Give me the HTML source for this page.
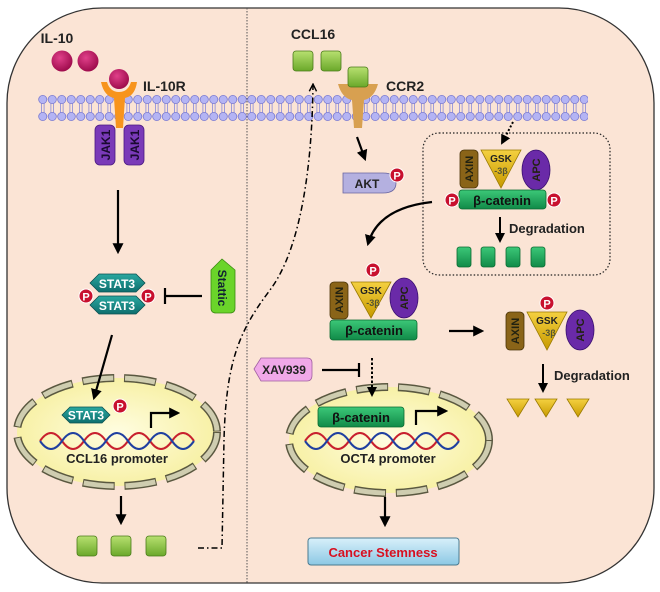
<!DOCTYPE html>
<html><head><meta charset="utf-8"><style>
html,body{margin:0;padding:0;background:#fff}
svg{display:block}
text{font-family:"Liberation Sans",Arial,sans-serif;font-weight:bold}
</style></head><body>
<svg width="660" height="592" viewBox="0 0 660 592" xmlns="http://www.w3.org/2000/svg">
<defs>
<pattern id="mem" x="0" y="95" width="9.5" height="26" patternUnits="userSpaceOnUse">
<line x1="3.4" y1="8" x2="3.4" y2="18" stroke="#8a8ad8" stroke-width="0.8"/>
<line x1="6.1" y1="8" x2="6.1" y2="18" stroke="#8a8ad8" stroke-width="0.8"/>
<circle cx="4.75" cy="4.5" r="4.1" fill="#b4b4f4" stroke="#7a7ad0" stroke-width="0.8"/>
<circle cx="4.75" cy="21.5" r="4.1" fill="#b4b4f4" stroke="#7a7ad0" stroke-width="0.8"/>
</pattern>
<radialGradient id="mag" cx="0.4" cy="0.35" r="0.7"><stop offset="0" stop-color="#e0408a"/><stop offset="1" stop-color="#9a0848"/></radialGradient>
<linearGradient id="gsq" x1="0" y1="0" x2="0" y2="1"><stop offset="0" stop-color="#b8e070"/><stop offset="1" stop-color="#6aa82a"/></linearGradient>
<linearGradient id="gcat" x1="0" y1="0" x2="0" y2="1"><stop offset="0" stop-color="#3cc878"/><stop offset="1" stop-color="#108a48"/></linearGradient>
<linearGradient id="gstat" x1="0" y1="0" x2="0" y2="1"><stop offset="0" stop-color="#2aa8a0"/><stop offset="1" stop-color="#0e6e6e"/></linearGradient>
<linearGradient id="gyel" x1="0" y1="0" x2="0" y2="1"><stop offset="0" stop-color="#f4d040"/><stop offset="1" stop-color="#c89a00"/></linearGradient>
<radialGradient id="gnuc" cx="0.5" cy="0.5" r="0.6"><stop offset="0" stop-color="#fffde0"/><stop offset="1" stop-color="#f6ee9a"/></radialGradient>
<linearGradient id="gcan" x1="0" y1="0" x2="0" y2="1"><stop offset="0" stop-color="#d8f0fa"/><stop offset="1" stop-color="#8cc8e4"/></linearGradient>
<marker id="ar" viewBox="0 0 10 10" refX="8" refY="5" markerWidth="5" markerHeight="5" orient="auto"><path d="M0,0 L10,5 L0,10 z" fill="#000"/></marker>
<marker id="ao" viewBox="0 0 10 10" refX="8" refY="5" markerWidth="6" markerHeight="6" orient="auto"><path d="M1,1 L9,5 L1,9" fill="none" stroke="#000" stroke-width="1.6"/></marker>
<g id="P"><circle r="7" fill="#c8102e" stroke="#fff" stroke-width="1"/><text y="4.5" text-anchor="middle" font-size="11" fill="#fff">P</text></g>
<g id="sq"><rect x="-10" y="-10" width="20" height="20" rx="3" fill="url(#gsq)" stroke="#4a7a1a" stroke-width="0.8"/></g>
<g id="gr"><rect x="-7" y="-10" width="14" height="20" rx="2.5" fill="url(#gcat)" stroke="#0a6a30" stroke-width="0.8"/></g>
<g id="tri"><path d="M-11,-8 L11,-8 L0,10 z" fill="url(#gyel)" stroke="#9a7a00" stroke-width="0.8"/></g>
</defs>

<rect x="7" y="8" width="647" height="575" rx="95" ry="95" fill="#fbe4d5" stroke="#333" stroke-width="1.3"/>
<line x1="247" y1="8" x2="247" y2="583" stroke="#555" stroke-width="1" stroke-dasharray="1.5,1.5"/>

<rect x="38" y="95" width="550" height="26" fill="url(#mem)"/>

<text x="57" y="43" font-size="14" text-anchor="middle" fill="#222">IL-10</text>
<circle cx="62" cy="61" r="10.5" fill="url(#mag)"/>
<circle cx="88" cy="61" r="10.5" fill="url(#mag)"/>
<path d="M101,82 Q104,96 114,98 L116,128 L123,128 L125,98 Q135,96 137,82 L131,82 Q128,92 119,92 Q110,92 107,82 z" fill="#f7941d"/>
<circle cx="119" cy="79" r="10" fill="url(#mag)"/>
<text x="143" y="91" font-size="14" fill="#222">IL-10R</text>
<rect x="95" y="125" width="20" height="40" rx="5" fill="#7a3ab8" stroke="#4a1a80" stroke-width="0.8"/>
<rect x="124" y="125" width="20" height="40" rx="5" fill="#7a3ab8" stroke="#4a1a80" stroke-width="0.8"/>
<text transform="translate(110,145) rotate(-90)" font-size="12" text-anchor="middle" fill="#1a0a30">JAK1</text>
<text transform="translate(139,145) rotate(-90)" font-size="12" text-anchor="middle" fill="#1a0a30">JAK1</text>
<line x1="118" y1="190" x2="118" y2="252" stroke="#000" stroke-width="2.2" marker-end="url(#ar)"/>

<path d="M90,283 L99,274 L136,274 L145,283 L136,292 L99,292 z" fill="url(#gstat)" stroke="#0a5050" stroke-width="0.8"/>
<path d="M90,305 L99,296 L136,296 L145,305 L136,314 L99,314 z" fill="url(#gstat)" stroke="#0a5050" stroke-width="0.8"/>
<text x="117" y="288" font-size="12" text-anchor="middle" fill="#fff">STAT3</text>
<text x="117" y="310" font-size="12" text-anchor="middle" fill="#fff">STAT3</text>
<use href="#P" x="86" y="296"/><use href="#P" x="148" y="296"/>
<path d="M202,296 L166,296 M165,288 L165,304" stroke="#000" stroke-width="2.2" fill="none"/>
<path d="M211,270 L222,259 L235,270 L235,308 Q235,313 230,313 L216,313 Q211,313 211,308 z" fill="#6ad42a" stroke="#3a8a10" stroke-width="0.8"/>
<text transform="translate(218,288) rotate(90)" font-size="12" text-anchor="middle" fill="#123">Stattic</text>

<!-- nucleus left -->
<ellipse cx="117" cy="432" rx="100" ry="54" fill="url(#gnuc)"/>
<ellipse cx="117" cy="432" rx="100" ry="54" fill="none" stroke="#5a5840" stroke-width="8" stroke-dasharray="32,10"/>
<ellipse cx="117" cy="432" rx="100" ry="54" fill="none" stroke="#cfcdb0" stroke-width="5" stroke-dasharray="30,12" stroke-dashoffset="-1"/>
<line x1="112" y1="335" x2="94" y2="398" stroke="#000" stroke-width="2.2" marker-end="url(#ar)"/>
<path d="M62,415 L70,407 L102,407 L110,415 L102,423 L70,423 z" fill="url(#gstat)" stroke="#0a5050" stroke-width="0.8"/>
<text x="86" y="419.5" font-size="12" text-anchor="middle" fill="#fff">STAT3</text>
<use href="#P" x="120" y="406"/>
<path d="M151,428 L151,413 L178,413" stroke="#000" stroke-width="2.2" fill="none" marker-end="url(#ar)"/>
<path d="M40,441 Q51,425 62,441 T84,441 T106,441 T128,441 T150,441 T172,441 T194,441" stroke="#c8202e" stroke-width="2" fill="none"/>
<path d="M40,441 Q51,457 62,441 T84,441 T106,441 T128,441 T150,441 T172,441 T194,441" stroke="#2040a0" stroke-width="2" fill="none"/>
<text x="117" y="463" font-size="13" text-anchor="middle" fill="#222">CCL16 promoter</text>
<line x1="121" y1="496" x2="121" y2="523" stroke="#000" stroke-width="2.2" marker-end="url(#ar)"/>
<use href="#sq" x="87" y="546"/><use href="#sq" x="121" y="546"/><use href="#sq" x="156" y="546"/>

<path d="M198,548 L222,548 L224,440 C226,360 240,330 270,290 C300,250 312,170 313,85" stroke="#000" stroke-width="1.5" fill="none" stroke-dasharray="6,3,1.5,3" marker-end="url(#ao)"/>

<text x="313" y="39" font-size="14" text-anchor="middle" fill="#222">CCL16</text>
<use href="#sq" x="303" y="61"/><use href="#sq" x="331" y="61"/>
<path d="M338,84 Q342,98 352,100 L354,128 L362,128 L364,100 Q374,98 378,84 z" fill="#d8a050"/>
<use href="#sq" x="358" y="77"/>
<text x="386" y="91" font-size="14" fill="#222">CCR2</text>
<line x1="357" y1="137" x2="365" y2="159" stroke="#000" stroke-width="2.2" marker-end="url(#ar)"/>
<path d="M343,173 L383,173 Q396,173 396,183 Q396,193 383,193 L343,193 z" fill="#b4b0e0" stroke="#6a66a0" stroke-width="0.8"/>
<text x="367" y="188" font-size="12" text-anchor="middle" fill="#222">AKT</text>
<use href="#P" x="397" y="175"/>

<rect x="423" y="133" width="187" height="142" rx="16" fill="none" stroke="#222" stroke-width="1.2" stroke-dasharray="1.5,2"/>
<line x1="513" y1="122" x2="502" y2="143" stroke="#000" stroke-width="2" stroke-dasharray="2,2" marker-end="url(#ar)"/>
<rect x="460" y="150" width="18" height="38" rx="4" fill="#8a6418" stroke="#4a3408" stroke-width="0.8"/>
<text transform="translate(473,169) rotate(-90)" font-size="11" text-anchor="middle" fill="#221">AXIN</text>
<path d="M481,150 L521,150 L501,188 z" fill="url(#gyel)" stroke="#9a7a00" stroke-width="0.8"/>
<text x="501" y="162" font-size="10" text-anchor="middle" fill="#222">GSK</text>
<text x="501" y="174" font-size="9" text-anchor="middle" fill="#553">-3β</text>
<ellipse cx="536" cy="170" rx="14" ry="20" fill="#6a2aa8" stroke="#3a1070" stroke-width="0.8"/>
<text transform="translate(540,170) rotate(-90)" font-size="11" text-anchor="middle" fill="#221">APC</text>
<rect x="459" y="190" width="87" height="19" rx="3" fill="url(#gcat)" stroke="#0a6a30" stroke-width="0.8"/>
<text x="502" y="205" font-size="13" text-anchor="middle" fill="#111">β-catenin</text>
<use href="#P" x="452" y="200"/><use href="#P" x="554" y="200"/>
<line x1="500" y1="217" x2="500" y2="241" stroke="#000" stroke-width="2" marker-end="url(#ar)"/>
<text x="509" y="233" font-size="13" fill="#222">Degradation</text>
<use href="#gr" x="464" y="257"/><use href="#gr" x="488" y="257"/><use href="#gr" x="513" y="257"/><use href="#gr" x="538" y="257"/>
<path d="M432,202 Q378,208 368,244" stroke="#000" stroke-width="2.2" fill="none" marker-end="url(#ar)"/>

<use href="#P" x="373" y="270"/>
<rect x="330" y="282" width="18" height="37" rx="4" fill="#8a6418" stroke="#4a3408" stroke-width="0.8"/>
<text transform="translate(343,300) rotate(-90)" font-size="11" text-anchor="middle" fill="#221">AXIN</text>
<path d="M351,282 L391,282 L371,318 z" fill="url(#gyel)" stroke="#9a7a00" stroke-width="0.8"/>
<text x="371" y="294" font-size="10" text-anchor="middle" fill="#222">GSK</text>
<text x="373" y="306" font-size="9" text-anchor="middle" fill="#553">-3β</text>
<ellipse cx="404" cy="298" rx="14" ry="20" fill="#6a2aa8" stroke="#3a1070" stroke-width="0.8"/>
<text transform="translate(408,298) rotate(-90)" font-size="11" text-anchor="middle" fill="#221">APC</text>
<rect x="330" y="320" width="87" height="20" rx="3" fill="url(#gcat)" stroke="#0a6a30" stroke-width="0.8"/>
<text x="374" y="335" font-size="13" text-anchor="middle" fill="#111">β-catenin</text>
<line x1="449" y1="331" x2="482" y2="331" stroke="#000" stroke-width="2.2" marker-end="url(#ar)"/>

<use href="#P" x="547" y="303"/>
<rect x="506" y="312" width="18" height="38" rx="4" fill="#8a6418" stroke="#4a3408" stroke-width="0.8"/>
<text transform="translate(519,331) rotate(-90)" font-size="11" text-anchor="middle" fill="#221">AXIN</text>
<path d="M527,312 L567,312 L547,350 z" fill="url(#gyel)" stroke="#9a7a00" stroke-width="0.8"/>
<text x="547" y="324" font-size="10" text-anchor="middle" fill="#222">GSK</text>
<text x="549" y="336" font-size="9" text-anchor="middle" fill="#553">-3β</text>
<ellipse cx="580" cy="330" rx="14" ry="20" fill="#6a2aa8" stroke="#3a1070" stroke-width="0.8"/>
<text transform="translate(584,330) rotate(-90)" font-size="11" text-anchor="middle" fill="#221">APC</text>
<line x1="543" y1="364" x2="543" y2="391" stroke="#000" stroke-width="2" marker-end="url(#ar)"/>
<text x="554" y="380" font-size="13" fill="#222">Degradation</text>
<use href="#tri" x="518" y="407"/><use href="#tri" x="546" y="407"/><use href="#tri" x="578" y="407"/>

<path d="M254,369 L261,358 L307,358 Q312,358 312,363 L312,375 Q312,381 307,381 L261,381 z" fill="#f0a8e8" stroke="#a060a0" stroke-width="0.8"/>
<text x="284" y="374" font-size="12" text-anchor="middle" fill="#222">XAV939</text>
<path d="M322,370 L358,370 M359,363 L359,377" stroke="#000" stroke-width="2.2" fill="none"/>

<ellipse cx="389" cy="440" rx="100" ry="53" fill="url(#gnuc)"/>
<ellipse cx="389" cy="440" rx="100" ry="53" fill="none" stroke="#5a5840" stroke-width="8" stroke-dasharray="32,10"/>
<ellipse cx="389" cy="440" rx="100" ry="53" fill="none" stroke="#cfcdb0" stroke-width="5" stroke-dasharray="30,12" stroke-dashoffset="-1"/>
<line x1="372" y1="358" x2="372" y2="395" stroke="#000" stroke-width="2" stroke-dasharray="2.5,2" marker-end="url(#ar)"/>
<rect x="318" y="407" width="86" height="20" rx="3" fill="url(#gcat)" stroke="#0a6a30" stroke-width="0.8"/>
<text x="361" y="422" font-size="13" text-anchor="middle" fill="#111">β-catenin</text>
<path d="M416,425 L416,411 L446,411" stroke="#000" stroke-width="2.2" fill="none" marker-end="url(#ar)"/>
<path d="M305,441 Q316,425 327,441 T349,441 T371,441 T393,441 T415,441 T437,441 T459,441" stroke="#c8202e" stroke-width="2" fill="none"/>
<path d="M305,441 Q316,457 327,441 T349,441 T371,441 T393,441 T415,441 T437,441 T459,441" stroke="#2040a0" stroke-width="2" fill="none"/>
<text x="388" y="463" font-size="13" text-anchor="middle" fill="#222">OCT4 promoter</text>
<line x1="385" y1="497" x2="385" y2="525" stroke="#000" stroke-width="2.2" marker-end="url(#ar)"/>
<rect x="308" y="538" width="151" height="27" rx="3" fill="url(#gcan)" stroke="#4a7a90" stroke-width="1"/>
<text x="383" y="557" font-size="13" text-anchor="middle" fill="#d81020">Cancer Stemness</text>
</svg>
</body></html>
